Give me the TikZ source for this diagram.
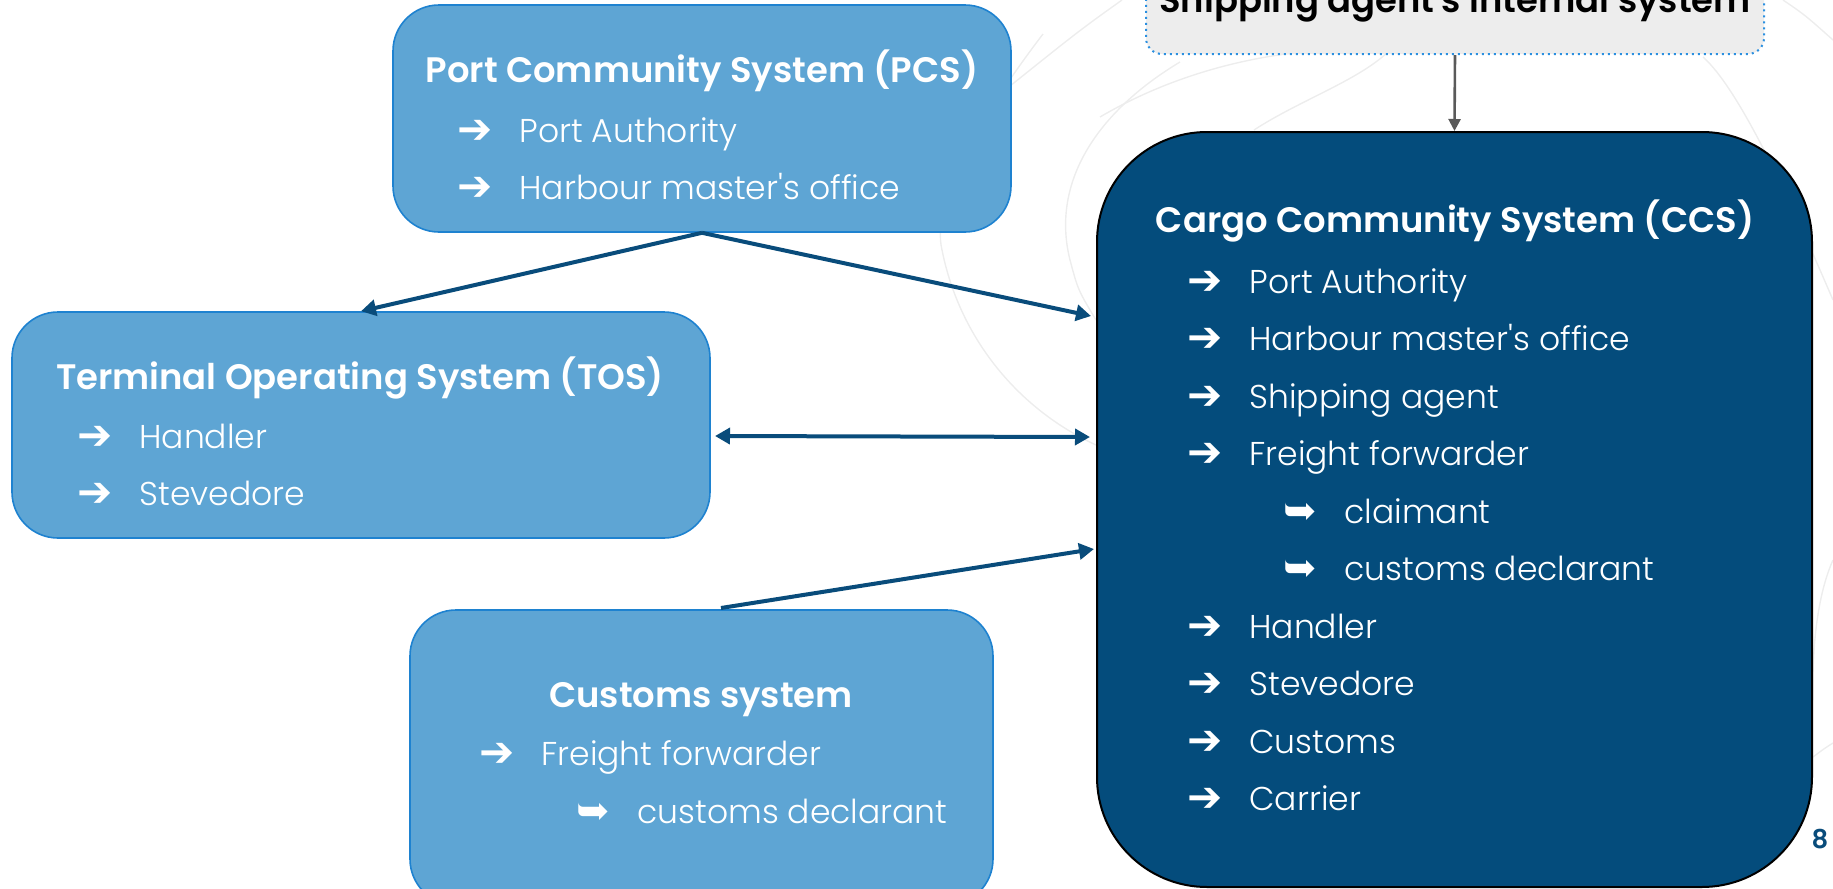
\documentclass[tikz,border=0pt]{standalone}
\usepackage{fontspec}
\setmainfont{Poppins}[UprightFont={* Light},BoldFont={* SemiBold},Ligatures=TeXOff]
\newfontfamily\symfont{DejaVu Sans}
\usetikzlibrary{arrows.meta,calc}
\definecolor{boxfill}{HTML}{5EA5D4}
\definecolor{boxline}{HTML}{1E82D0}
\definecolor{ccsfill}{HTML}{044C7C}
\definecolor{linkcol}{HTML}{094C7B}
\definecolor{agentfill}{HTML}{EDEDED}
\definecolor{agentline}{HTML}{2A8FE0}
\definecolor{tipgray}{HTML}{5A5A5A}
\tikzset{
    sysbox/.style= {draw=boxline,line width=0.8pt,fill=boxfill,rounded corners=23pt,inner sep=0},
    ccsbox/.style= {draw=black,line width=1pt,fill=ccsfill,rounded corners=55pt,inner sep=0},
    agentbox/.style= {draw=agentline,dotted,line width=1pt,fill=agentfill,rounded corners=8pt,inner sep=0},
    boxtitle/.style= {text=white,font=\bfseries\fontsize{17.7}{21}\selectfont,anchor=base,inner sep=0},
    item/.style= {text=white,font=\fontsize{16.5}{20}\selectfont,anchor=base west,inner sep=0},
    link/.style= {draw=linkcol,line width=2pt,-{Triangle[length=7.5pt,width=8pt]}},
    backline/.style= {draw=gray!14,line width=0.7pt}
}
\newcommand{\bul}{\makebox[31pt][l]{\raisebox{-0.5pt}{\symfont\bfseries\fontsize{21}{21}\selectfont ➔}}}
\newcommand{\subbul}{\makebox[30.5pt][l]{\raisebox{-0.5pt}{\symfont\bfseries\fontsize{20}{20}\selectfont ➥}}}

\begin{document}
\begin{tikzpicture}[x=0.5pt,y=-0.5pt]
    \useasboundingbox (0,0) rectangle (1833,889);
    \clip (0,0) rectangle (1833,889);
    % faint background lines
    \draw[backline] (1122,0) .. controls (1080,30) .. (1005,90);
    \draw[backline] (1043,34) .. controls (985,110) and (930,200) .. (942,250) .. controls (960,340) and (1020,410) .. (1096,445);
    \draw[backline] (1180,62) .. controls (1100,110) and (1050,180) .. (1070,260) .. controls (1078,290) .. (1096,320);
    \draw[backline] (1100,117) .. controls (1180,70) and (1280,45) .. (1380,50);
    \draw[backline] (1254,130) .. controls (1300,100) and (1360,80) .. (1390,50);
    \draw[backline] (1703,57) .. controls (1740,90) and (1790,200) .. (1833,300);
    \draw[backline] (1783,0) .. controls (1805,15) .. (1833,40);
    \draw[backline] (1833,560) .. controls (1815,600) and (1812,660) .. (1813,700);
    \draw[backline] (1833,743) .. controls (1825,748) .. (1813,757);

    \node[agentbox,minimum width=309pt,minimum height=57pt]
        (agent) at (1455,-3) {};
    \node[text=black,font=\bfseries\fontsize{17.7}{21}\selectfont,anchor=base,inner sep=0]
        (agentt) at (1455,12) {Shipping agent's internal system};

    \node[sysbox,minimum width=309pt,minimum height=113.5pt]
        (pcs) at (702,118.5) {};
    \node[sysbox,minimum width=349pt,minimum height=113pt]
        (tos) at (361,425) {};
    \node[sysbox,minimum width=291.5pt,minimum height=147.5pt]
        (cus) at (701.5,757.5) {};
    \node[ccsbox,minimum width=357.5pt,minimum height=377.5pt]
        (ccs) at (1454.5,509.5) {};

    % PCS
    \node[boxtitle] (pcst) at (702,82) {Port Community System (PCS)};
    \node[item] (pcsa) at (457,142) {\bul Port Authority};
    \node[item] (pcsb) at (457,199) {\bul Harbour master's office};
    % TOS
    \node[boxtitle] (tost) at (360,389) {Terminal Operating System (TOS)};
    \node[item] (tosa) at (77,448) {\bul Handler};
    \node[item] (tosb) at (77,505) {\bul Stevedore};
    % Customs
    \node[boxtitle] (cust) at (701,707) {Customs system};
    \node[item] (cusa) at (479,765) {\bul Freight forwarder};
    \node[item] (cusb) at (576,823) {\subbul customs declarant};
    % CCS
    \node[boxtitle] (ccst) at (1455,232) {Cargo Community System (CCS)};
    \node[item] (ccsa) at (1187,293) {\bul Port Authority};
    \node[item] (ccsb) at (1187,350.5) {\bul Harbour master's office};
    \node[item] (ccsc) at (1187,408) {\bul Shipping agent};
    \node[item] (ccsd) at (1187,465.5) {\bul Freight forwarder};
    \node[item] (ccse) at (1283,523) {\subbul claimant};
    \node[item] (ccsf) at (1283,580.5) {\subbul customs declarant};
    \node[item] (ccsg) at (1187,638) {\bul Handler};
    \node[item] (ccsh) at (1187,695.5) {\bul Stevedore};
    \node[item] (ccsi) at (1187,753) {\bul Customs};
    \node[item] (ccsj) at (1187,810.5) {\bul Carrier};

    \node[text=linkcol,font=\bfseries\fontsize{13}{13}\selectfont,inner sep=0]
        (page) at (1820,839) {8};

    \coordinate (ccsin1) at (1091,316);
    \coordinate (ccsin2) at (1090,437);
    \coordinate (ccsin3) at (1094,549);
    \coordinate (tosout) at (715,436);
    \coordinate (cusout) at (721,608);
    \draw[link] (pcs.south) -- (tos.north);
    \draw[link] (pcs.south) -- (ccsin1);
    \draw[link,{Triangle[length=7.5pt,width=8pt]}-{Triangle[length=7.5pt,width=8pt]}] (tosout) -- (ccsin2);
    \draw[link] (cusout) -- (ccsin3);
    \draw[draw=tipgray,line width=1.3pt,-{Triangle[length=6pt,width=6pt]}] (agent.south) -- (ccs.north);
\end{tikzpicture}
\end{document}
